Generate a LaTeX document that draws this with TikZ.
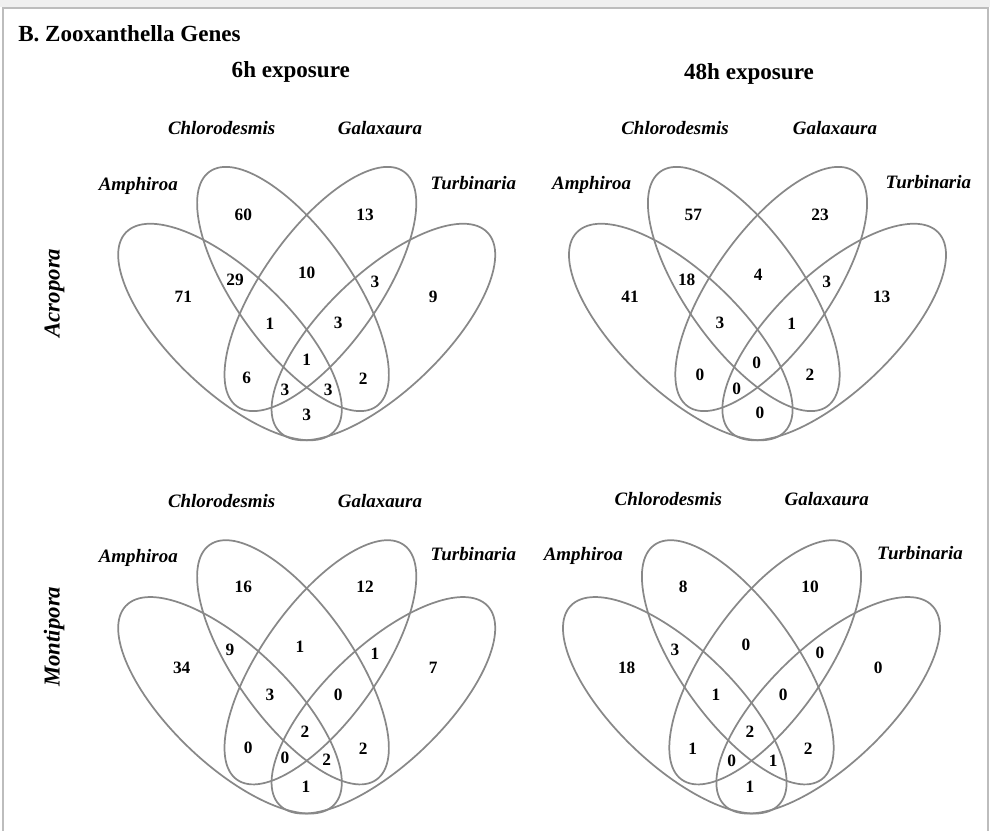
\documentclass[tikz,border=0pt]{standalone}
\usepackage{fontspec}
\setmainfont{Liberation Serif}
\definecolor{venngray}{HTML}{888888}
\definecolor{framegray}{HTML}{BDBDBD}
\definecolor{bandgray}{HTML}{F0F0F0}
\tikzset{
  vennline/.style={draw=venngray, line width=1.3pt},
  num/.style={font=\fontsize{13}{13}\selectfont\bfseries, inner sep=0pt, text=black},
  species/.style={font=\fontsize{14.2}{14.2}\selectfont\bfseries\itshape, inner sep=0pt, anchor=base},
  header/.style={font=\fontsize{17.3}{17.3}\selectfont\bfseries, inner sep=0pt, anchor=base},
  coral/.style={font=\fontsize{17.1}{17.1}\selectfont\bfseries\itshape, inner sep=0pt, anchor=base, rotate=90},
  framebox/.style={draw=framegray, line width=1.5pt}
}
% four ellipses of one Venn diagram, #1 = x of symmetry axis, #2 = y of central crossing
\newcommand{\vennfour}[2]{%
  \begin{scope}[shift={(#1,#2)}]
    \draw[vennline, rotate around={-43.7:(-76.7,2)}] (-76.7,2) ellipse [x radius=144, y radius=59];
    \draw[vennline, rotate around={43.7:(76.7,2)}] (76.7,2) ellipse [x radius=144, y radius=59];
    \draw[vennline, rotate around={-54.6:(-13.7,-41)}] (-13.7,-41) ellipse [x radius=144, y radius=58];
    \draw[vennline, rotate around={54.6:(13.7,-41)}] (13.7,-41) ellipse [x radius=144, y radius=58];
  \end{scope}}
\begin{document}
\begin{tikzpicture}[x=0.75pt, y=-0.75pt]
\useasboundingbox (0,0) rectangle (990,831);
\fill[bandgray] (0,0) rectangle (990,7);
\draw[framebox] (2.7,840) -- (2.7,8) -- (987.5,8) -- (987.5,840);

% headers
\node[header, anchor=base west] (title) at (18,41.5) {B. Zooxanthella Genes};
\node[header] (h6) at (290.8,77.5) {6h exposure};
\node[header] (h48) at (749,79.5) {48h exposure};
\node[coral] (acro) at (59.5,293) {Acropora};
\node[coral] (monti) at (59.5,636.7) {Montipora};

% ellipses
\vennfour{306.7}{330}
\vennfour{757.5}{330}
\vennfour{306.7}{703.3}
\vennfour{751.5}{703.3}

% species labels
\foreach \p/\ca/\cy/\ga/\aa/\ay/\ta/\ty in {
  tl/221.7/135/380/138.3/191/473.3/190,
  tr/675/135/835/591.7/190/928.3/189,
  bl/221.7/507.7/380/138.3/562.7/473.3/560.7,
  br/668.3/505.7/826.7/583.3/560.7/920/559}{
  \node[species] (\p-chl) at (\ca,\cy) {Chlorodesmis};
  \node[species] (\p-gal) at (\ga,\cy) {Galaxaura};
  \node[species] (\p-amp) at (\aa,\ay) {Amphiroa};
  \node[species] (\p-tur) at (\ta,\ty) {Turbinaria};
}

% region counts, top left
\foreach \n/\x/\y/\t in {
  a/183.3/296.7/71, c/243.3/215/60, g/365/215/13, t/433.3/296.7/9,
  ac/235/280/29, cg/306.7/273.3/10, gt/375/281.7/3, acg/270/323.3/1,
  cgt/338.3/323.3/3, acgt/306.7/360/1, ag/246.7/378.3/6, ct/363.3/378.3/2,
  agt/285/390/3, act/328.3/390/3, at/306.7/415/3}{
  \node[num] (tl-\n) at (\x,\y) {\t};
}
% top right
\foreach \n/\x/\y/\t in {
  a/630/296.7/41, c/693.3/215/57, g/820/215/23, t/881.7/296.7/13,
  ac/686.7/280/18, cg/758.3/275/4, gt/826.7/281.7/3, acg/720/323.3/3,
  cgt/791.7/323.3/1, acgt/756.7/363.3/0, ag/700/375/0, ct/810/375/2,
  agt/736.7/389.3/0, at/760/413.3/0}{
  \node[num] (tr-\n) at (\x,\y) {\t};
}
% bottom left
\foreach \n/\x/\y/\t in {
  a/181.7/668.3/34, c/243.3/586.7/16, g/365/586.7/12, t/433.3/668.3/7,
  ac/230/650/9, cg/300/646.7/1, gt/375/653.3/1, acg/270/695/3,
  cgt/338.3/695/0, acgt/305/731.7/2, ag/248.3/748.3/0, ct/363.3/748.3/2,
  agt/285/758.3/0, act/326.7/760/2, at/306/786.7/1}{
  \node[num] (bl-\n) at (\x,\y) {\t};
}
% bottom right
\foreach \n/\x/\y/\t in {
  a/626.7/668.3/18, c/683.3/586.7/8, g/810/586.7/10, t/878.3/668.3/0,
  ac/675/650/3, cg/746/645/0, gt/820/653.3/0, acg/716/695/1,
  cgt/783.3/695/0, acgt/750/731.7/2, ag/692.7/748.3/1, ct/808.3/748.3/2,
  agt/731.7/760.7/0, act/773.3/760.7/1, at/750/786.7/1}{
  \node[num] (br-\n) at (\x,\y) {\t};
}
\end{tikzpicture}
\end{document}
